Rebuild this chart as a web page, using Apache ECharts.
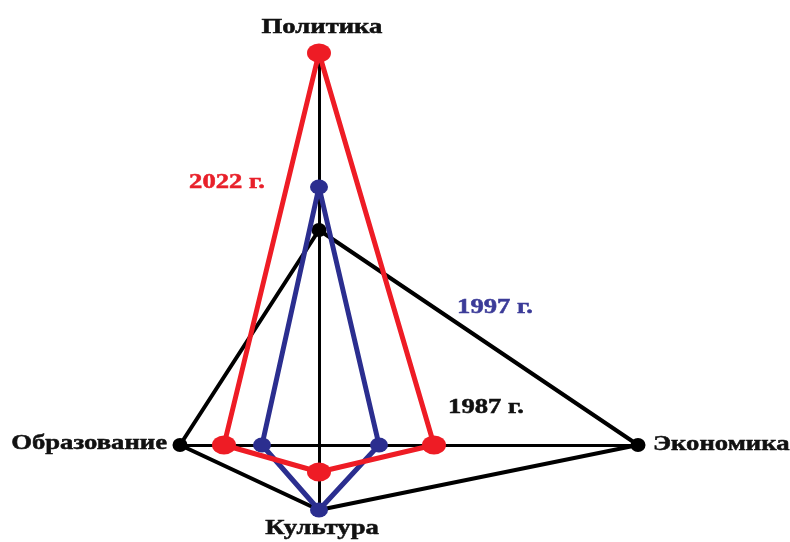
<!DOCTYPE html>
<html>
<head>
<meta charset="utf-8">
<script src="https://cdn.jsdelivr.net/npm/echarts@6/dist/echarts.min.js"></script>
<style>html,body{margin:0;padding:0;background:#fff}#c{width:790px;height:542px}</style>
</head>
<body>
<div id="c"></div>
<script>
// Axes (indicators) and their direction on the cross
const categories = ['Политика', 'Экономика', 'Культура', 'Образование'];
const directions = [[0, 1], [1, 0], [0, -1], [-1, 0]];
// Series
const years = ['1987 г.', '1997 г.', '2022 г.'];
const v1987 = [215, 319, 65, 139];
const v1997 = [258, 60, 65, 57];
const v2022 = [392, 115, 27, 95];

const colors = { '1987 г.': '#000000', '1997 г.': '#2b2e8f', '2022 г.': '#ee1c25' };
const textColors = { '1987 г.': '#111111', '1997 г.': '#3b3b98', '2022 г.': '#e8202a' };
const symbolSizes = { '1987 г.': [15, 14], '1997 г.': [18, 15], '2022 г.': [24, 19] };
const widths = { '1987 г.': 4, '1997 г.': 5, '2022 г.': 5 };
const seriesValues = [v1987, v1997, v2022];

const axisMax = categories.map((c, i) => Math.max(...seriesValues.map(s => s[i])));

function polygon(vals) {
  const pts = vals.map((v, i) => [directions[i][0] * v, directions[i][1] * v]);
  const out = pts.map(p => ({ value: p }));
  out.push({ value: pts[0], symbol: 'none' });
  return out;
}

const chart = echarts.init(document.getElementById('c'), null, { renderer: 'canvas' });
const xMin = -axisMax[3], xMax = axisMax[1], yMin = -axisMax[2], yMax = axisMax[0];

const axisCommon = {
  type: 'value',
  axisLine: { show: true, onZero: true, lineStyle: { color: '#000', width: 3 } },
  axisTick: { show: false },
  axisLabel: { show: false },
  splitLine: { show: false }
};

chart.setOption({
  animation: false,
  backgroundColor: '#ffffff',
  grid: { left: 180, right: 152, top: 53, bottom: 32 },
  xAxis: Object.assign({}, axisCommon, { min: xMin, max: xMax }),
  yAxis: Object.assign({}, axisCommon, { min: yMin, max: yMax }),
  series: years.map((y, k) => ({
    name: y,
    type: 'line',
    z: 2 + k,
    data: polygon(seriesValues[k]),
    symbol: 'circle',
    symbolSize: symbolSizes[y],
    showAllSymbol: true,
    lineStyle: { color: colors[y], width: widths[y] },
    itemStyle: { color: colors[y] }
  }))
});

const px = p => chart.convertToPixel({ gridIndex: 0 }, p);
const font = 'bold 21px "Liberation Serif", "Times New Roman", serif';
const sx = 1.27;
function txt(x, y, text, fill, align) {
  return { type: 'text', x: x, y: y, scaleX: sx, z: 10,
    style: { text: text, font: font, fill: fill, stroke: fill, lineWidth: 0.5, textAlign: align, textVerticalAlign: 'middle' } };
}
const g = [];
// axis names at the ends of the cross
const ends = categories.map((c, i) => px([directions[i][0] * axisMax[i], directions[i][1] * axisMax[i]]));
g.push(txt(ends[0][0] + 3, ends[0][1] - 25, categories[0], '#111', 'center'));
g.push(txt(ends[1][0] + 15, ends[1][1], categories[1], '#111', 'left'));
g.push(txt(ends[2][0] + 3, ends[2][1] + 19, categories[2], '#111', 'center'));
g.push(txt(ends[3][0] - 13, ends[3][1] - 1, categories[3], '#111', 'right'));
// series names
const origin = px([0, 0]);
const nameOffsets = { '1987 г.': [167, -37], '1997 г.': [176, -137], '2022 г.': [-92, -262] };
years.forEach(y => {
  g.push(txt(origin[0] + nameOffsets[y][0], origin[1] + nameOffsets[y][1], y, textColors[y], 'center'));
});
chart.setOption({ graphic: g });
</script>
</body>
</html>
